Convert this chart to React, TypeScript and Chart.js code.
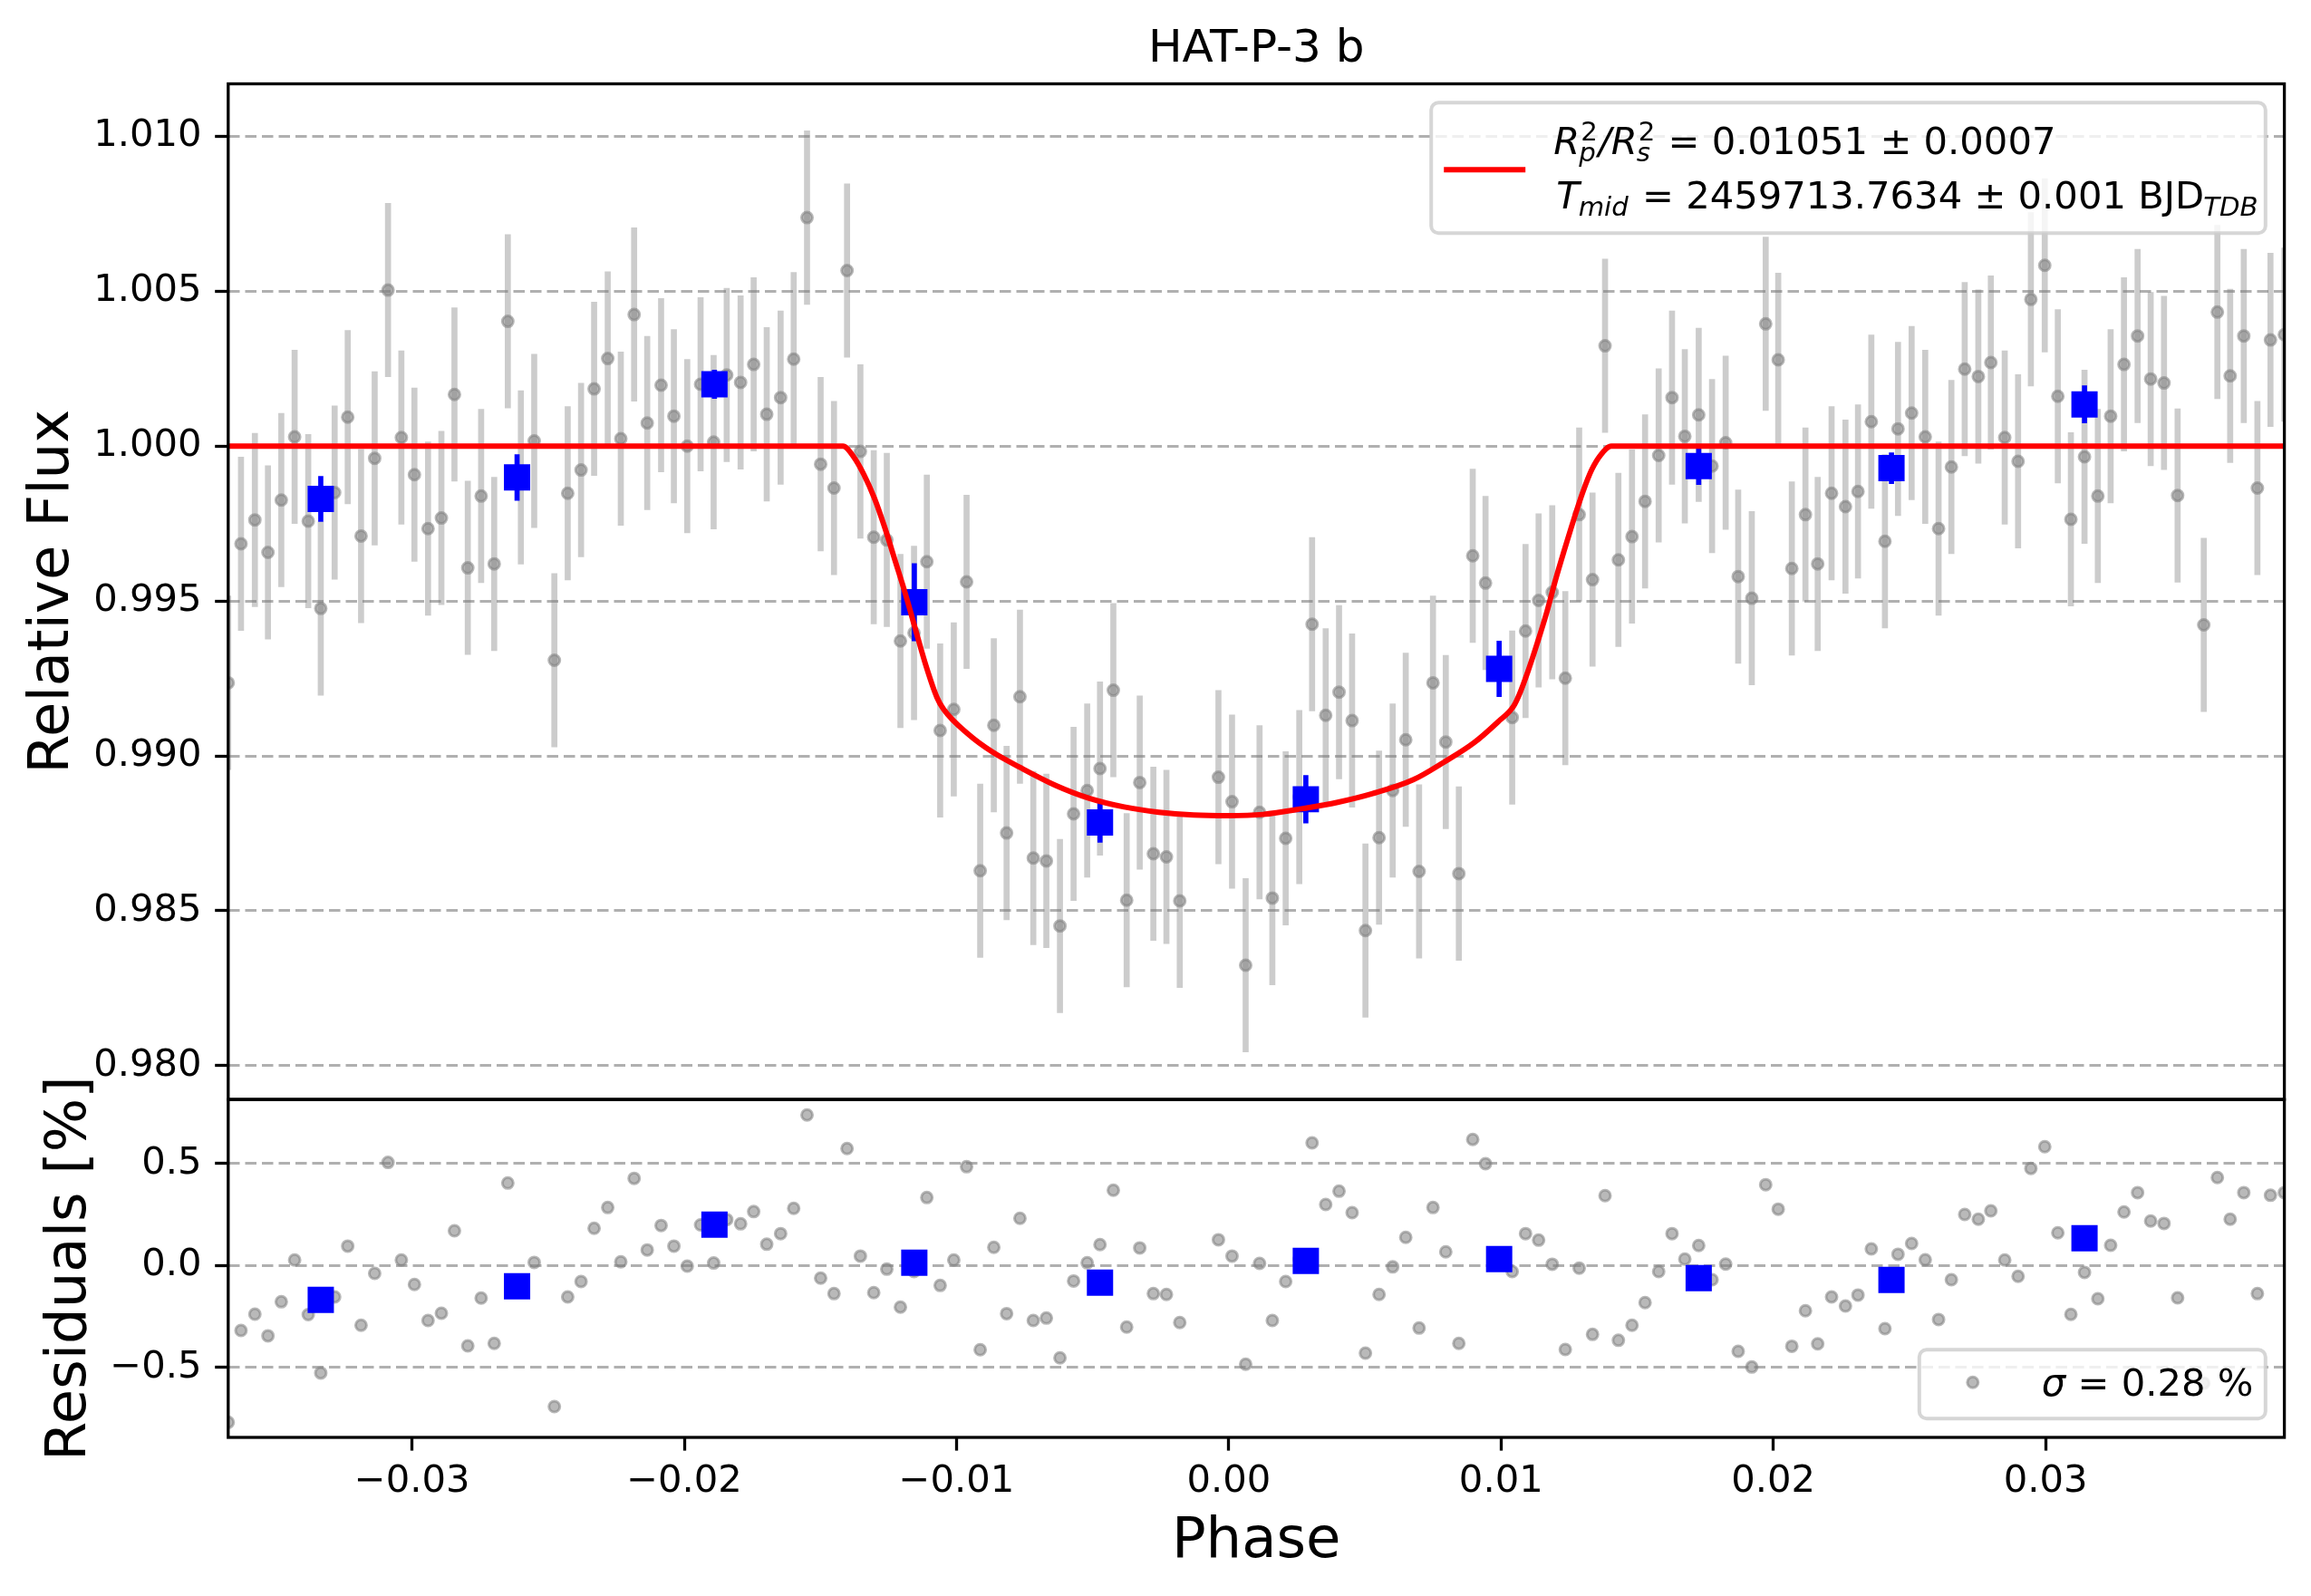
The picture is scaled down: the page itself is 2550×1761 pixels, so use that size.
import React, { useEffect, useRef } from 'react';
import { Chart, registerables } from 'chart.js';

Chart.register(...registerables);

// ---------------- data ----------------
const phase = [
  -0.03675, -0.03628, -0.03577, -0.03529, -0.0348, -0.03431, -0.03381, -0.03335, -0.03284, -0.03236,
  -0.03187, -0.03137, -0.03088, -0.03039, -0.02991, -0.02941, -0.02892, -0.02844, -0.02795, -0.02746,
  -0.02698, -0.02648, -0.026, -0.02551, -0.02477, -0.02428, -0.02379, -0.02331, -0.02281, -0.02233,
  -0.02184, -0.02136, -0.02085, -0.02038, -0.01989, -0.0194, -0.01892, -0.01844, -0.01793, -0.01745,
  -0.01697, -0.01646, -0.01598, -0.01549, -0.01499, -0.0145, -0.01402, -0.01353, -0.01304, -0.01256,
  -0.01206, -0.01156, -0.01109, -0.0106, -0.0101, -0.00963, -0.00913, -0.00863, -0.00816, -0.00767,
  -0.00718, -0.0067, -0.0062, -0.0057, -0.0052, -0.00473, -0.00424, -0.00375, -0.00327, -0.00277,
  -0.00229, -0.0018, -0.00038, 0.00012, 0.00062, 0.00113, 0.0016, 0.00209, 0.00259, 0.00306,
  0.00356, 0.00405, 0.00453, 0.00502, 0.00552, 0.00602, 0.0065, 0.00699, 0.0075, 0.00797,
  0.00845, 0.00896, 0.00943, 0.01041, 0.0109, 0.01138, 0.01188, 0.01236, 0.01287, 0.01336,
  0.01382, 0.01431, 0.01481, 0.01529, 0.01579, 0.01628, 0.01675, 0.01726, 0.01775, 0.01825,
  0.01871, 0.01921, 0.01972, 0.02018, 0.02068, 0.02118, 0.02163, 0.02214, 0.02265, 0.02311,
  0.0236, 0.0241, 0.02458, 0.02508, 0.02558, 0.02607, 0.02654, 0.02703, 0.02753, 0.02799,
  0.0285, 0.02899, 0.02946, 0.02997, 0.03045, 0.03093, 0.03143, 0.03192, 0.03239, 0.03288,
  0.03338, 0.03386, 0.03435, 0.03485, 0.03581, 0.03631, 0.03678, 0.03728, 0.03778, 0.03826,
  0.03877,
];

const flux = [
  0.99236, 0.99685, 0.99762, 0.99657, 0.99826, 1.0003, 0.99758, 0.99476, 0.9985, 1.00094,
  0.9971, 0.99961, 1.00504, 1.00028, 0.99908, 0.99734, 0.99768, 1.00167, 0.99607, 0.99839,
  0.9962, 1.00403, 0.99899, 1.00017, 0.99309, 0.99848, 0.99923, 1.00185, 1.00283, 1.00024,
  1.00425, 1.00075, 1.00197, 1.00097, 1.0, 1.002, 1.00013, 1.0023, 1.00206, 1.00264,
  1.00103, 1.00157, 1.00281, 1.00738, 0.99942, 0.99865, 1.00567, 0.99983, 0.99706, 0.99697,
  0.99371, 0.99397, 0.99627, 0.99082, 0.9915, 0.99562, 0.98629, 0.99099, 0.98751, 0.99191,
  0.9867, 0.98661, 0.98451, 0.98813, 0.98888, 0.98959, 0.99212, 0.98534, 0.98914, 0.98684,
  0.98674, 0.98532, 0.98931, 0.98852, 0.98324, 0.98818, 0.98541, 0.98734, 0.98867, 0.99425,
  0.99131, 0.99206, 0.99114, 0.98436, 0.98736, 0.98888, 0.99052, 0.98627, 0.99236, 0.99045,
  0.9862, 0.99646, 0.99558, 0.99124, 0.99403, 0.99502, 0.99528, 0.99251, 0.99779, 0.99569,
  1.00324, 0.99633, 0.99708, 0.99822, 0.9997, 1.00157, 1.00032, 1.00101, 0.99936, 1.00011,
  0.99579, 0.99509, 1.00395, 1.00279, 0.99605, 0.99779, 0.9962, 0.99848, 0.99805, 0.99854,
  1.00079, 0.99693, 1.00056, 1.00107, 1.0003, 0.99734, 0.99933, 1.00249, 1.00225, 1.0027,
  1.00028, 0.99951, 1.00474, 1.00584, 1.00161, 0.99764, 0.99966, 0.99839, 1.00097, 1.00264,
  1.00356, 1.00217, 1.00204, 0.99841, 0.99423, 1.00433, 1.00227, 1.00356, 0.99865, 1.00343,
  1.0036,
];

const fluxErr = 0.0028;

const residual = [
  -0.769, -0.319, -0.239, -0.345, -0.178, 0.027, -0.241, -0.527, -0.154, 0.095,
  -0.293, -0.039, 0.505, 0.027, -0.093, -0.27, -0.234, 0.17, -0.394, -0.16,
  -0.382, 0.404, -0.101, 0.015, -0.692, -0.154, -0.079, 0.182, 0.284, 0.018,
  0.427, 0.076, 0.196, 0.095, -0.003, 0.199, 0.012, 0.225, 0.204, 0.264,
  0.104, 0.156, 0.28, 0.738, -0.062, -0.138, 0.573, 0.046, -0.133, -0.018,
  -0.204, -0.03, 0.333, -0.098, 0.027, 0.484, -0.413, 0.089, -0.236, 0.231,
  -0.27, -0.258, -0.453, -0.076, 0.013, 0.102, 0.369, -0.302, 0.086, -0.138,
  -0.142, -0.28, 0.126, 0.046, -0.484, 0.01, -0.27, -0.079, 0.03, 0.601,
  0.299, 0.364, 0.259, -0.43, -0.142, -0.007, 0.138, -0.307, 0.284, 0.067,
  -0.382, 0.618, 0.499, -0.03, 0.156, 0.124, 0.006, -0.412, -0.013, -0.338,
  0.342, -0.367, -0.293, -0.182, -0.03, 0.156, 0.031, 0.098, -0.07, 0.007,
  -0.421, -0.498, 0.396, 0.276, -0.396, -0.222, -0.384, -0.154, -0.199, -0.145,
  0.081, -0.31, 0.055, 0.108, 0.028, -0.265, -0.07, 0.25, 0.227, 0.268,
  0.027, -0.053, 0.476, 0.582, 0.16, -0.24, -0.034, -0.163, 0.099, 0.262,
  0.357, 0.218, 0.206, -0.159, -0.577, 0.431, 0.227, 0.357, -0.138, 0.344,
  0.357,
];

const binPhase = [-0.03335, -0.02614, -0.01889, -0.01155, -0.00473, 0.00283, 0.00993, 0.01726, 0.02434, 0.03143];
const binFlux = [0.9983, 0.99899, 1.002, 0.99496, 0.98785, 0.9886, 0.99281, 0.99936, 0.99929, 1.00135];
const binErr = [0.00073, 0.00074, 0.00046, 0.00125, 0.00064, 0.00077, 0.0009, 0.0006, 0.0005, 0.0006];
const binResidual = [-0.169, -0.102, 0.2, 0.013, -0.084, 0.022, 0.031, -0.062, -0.071, 0.133];

const modelPhase = [
  -0.03675, -0.01417, -0.01378, -0.0134, -0.01302, -0.01263, -0.01225, -0.01187, -0.01149, -0.0111,
  -0.01072, -0.01047, -0.00958, -0.00869, -0.00767, -0.00639, -0.00512, -0.00384, -0.00257, -0.00129,
  -0.00002, 0.00125, 0.00273, 0.004, 0.00528, 0.00678, 0.00789, 0.009, 0.00989, 0.01045,
  0.01067, 0.011, 0.01133, 0.01167, 0.012, 0.01233, 0.01267, 0.013, 0.01333, 0.01367,
  0.01405, 0.03877,
];
const modelFlux = [
  1.0, 1.0, 0.99966, 0.99908, 0.99833, 0.99736, 0.99629, 0.99521, 0.99403, 0.99285,
  0.99189, 0.9915, 0.99071, 0.99013, 0.98963, 0.98906, 0.98863, 0.98835, 0.98818, 0.98809,
  0.98807, 0.98811, 0.9883, 0.9885, 0.98878, 0.98923, 0.98979, 0.99042, 0.9911, 0.99159,
  0.99198, 0.99276, 0.99364, 0.99461, 0.99568, 0.99666, 0.99763, 0.99851, 0.99924, 0.99973,
  1.0, 1.0,
];

const fluxTicks = [0.98, 0.985, 0.99, 0.995, 1.0, 1.005, 1.01];
const residualTicks = [-0.5, 0.0, 0.5];
const phaseTicks = [-0.03, -0.02, -0.01, 0.0, 0.01, 0.02, 0.03];

const PHASE_MIN = -0.03675;
const PHASE_MAX = 0.03877;
const FLUX_MIN = 0.97891;
const FLUX_MAX = 1.0117;
const RES_MIN = -0.843;
const RES_MAX = 0.813;

const TITLE = 'HAT-P-3 b';
const Y1_LABEL = 'Relative Flux';
const Y2_LABEL = 'Residuals [%]';
const X_LABEL = 'Phase';
const DEPTH_TEXT = ' = 0.01051 ± 0.0007';
const TMID_TEXT = ' = 2459713.7634 ± 0.001 BJD';
const SIGMA_TEXT = ' = 0.28 %';

// ---------------- style ----------------
const W = 2550;
const H = 1761;
const FONT = '"DejaVu Sans", "Liberation Sans", sans-serif';
const TICK_PX = 41.7;
const LABEL_PX = 62.5;
const AXIS_W = 3.3;
const GRID_DASH = [12.5, 6];
const GRID_COLOR = '#b0b0b0';
const GRAY_FILL = 'rgba(128,128,128,0.55)';
const GRAY_BAR = 'rgba(128,128,128,0.4)';
const BLUE = '#0000ff';
const RED = '#ff0000';

const fmtMinus = (s: string) => s.replace('-', '\u2212');

type Run = { t?: string; italic?: boolean; small?: boolean; sup?: string; sub?: string };

function drawRuns(ctx: CanvasRenderingContext2D, x: number, y: number, runs: Run[], base: number) {
  const small = base * 0.7;
  ctx.textBaseline = 'alphabetic';
  ctx.textAlign = 'left';
  ctx.fillStyle = '#000';
  for (const r of runs) {
    if (r.sup !== undefined || (r.sub !== undefined && r.t === undefined)) {
      let w1 = 0;
      let w2 = 0;
      if (r.sup !== undefined) {
        ctx.font = `${small}px ${FONT}`;
        w1 = ctx.measureText(r.sup).width + 1;
        ctx.fillText(r.sup, x + 1, y - 15);
      }
      if (r.sub !== undefined) {
        ctx.font = `italic ${small}px ${FONT}`;
        w2 = ctx.measureText(r.sub).width;
        ctx.fillText(r.sub, x - 1, y + 8);
      }
      x += Math.max(w1, w2) + 1;
    } else if (r.t !== undefined) {
      const size = r.small ? small : base;
      ctx.font = `${r.italic ? 'italic ' : ''}${size}px ${FONT}`;
      ctx.fillText(r.t, x, y);
      x += ctx.measureText(r.t).width;
    }
  }
}

const framePlugin = {
  id: 'frame',
  afterDatasetsDraw(chart: any) {
    const { ctx, chartArea } = chart;
    const { left, top, right, bottom } = chartArea;
    ctx.save();
    ctx.strokeStyle = '#000';
    ctx.lineWidth = AXIS_W;
    ctx.strokeRect(left, top, right - left, bottom - top);
    ctx.restore();
  },
};

const mainLegendPlugin = {
  id: 'mainLegend',
  afterDraw(chart: any) {
    const { ctx, chartArea } = chart;
    const pad = 20.8;
    const bw = 920.6;
    const bh = 144;
    const bx = chartArea.right - pad - bw;
    const by = chartArea.top + pad;
    ctx.save();
    ctx.beginPath();
    ctx.roundRect(bx, by, bw, bh, 8);
    ctx.fillStyle = 'rgba(255,255,255,0.8)';
    ctx.fill();
    ctx.lineWidth = 4;
    ctx.strokeStyle = 'rgba(204,204,204,0.8)';
    ctx.stroke();
    ctx.beginPath();
    ctx.strokeStyle = RED;
    ctx.lineWidth = 6;
    ctx.moveTo(bx + 14, by + 74);
    ctx.lineTo(bx + 104, by + 74);
    ctx.stroke();
    drawRuns(ctx, bx + 135, by + 57, [
      { t: 'R', italic: true },
      { sup: '2', sub: 'p' },
      { t: '/', italic: true },
      { t: 'R', italic: true },
      { sup: '2', sub: 's' },
      { t: DEPTH_TEXT },
    ], TICK_PX);
    drawRuns(ctx, bx + 138, by + 117, [
      { t: 'T', italic: true },
      { sub: 'mid' },
      { t: TMID_TEXT },
      { sub: 'TDB' },
    ], TICK_PX);
    ctx.restore();
  },
};

const resLegendPlugin = {
  id: 'resLegend',
  afterDraw(chart: any) {
    const { ctx, chartArea } = chart;
    const pad = 20.8;
    const bw = 382;
    const bh = 76;
    const bx = chartArea.right - pad - bw;
    const by = chartArea.bottom - pad - bh;
    ctx.save();
    ctx.beginPath();
    ctx.roundRect(bx, by, bw, bh, 8);
    ctx.fillStyle = 'rgba(255,255,255,0.8)';
    ctx.fill();
    ctx.lineWidth = 4;
    ctx.strokeStyle = 'rgba(204,204,204,0.8)';
    ctx.stroke();
    ctx.beginPath();
    ctx.arc(bx + 59, by + 36, 6, 0, Math.PI * 2);
    ctx.fillStyle = GRAY_FILL;
    ctx.fill();
    ctx.lineWidth = 3;
    ctx.strokeStyle = GRAY_FILL;
    ctx.stroke();
    drawRuns(ctx, bx + 135, by + 51, [{ t: 'σ', italic: true }, { t: SIGMA_TEXT }], TICK_PX);
    ctx.restore();
  },
};

function yAxis(min: number, max: number, ticks: number[], decimals: number, label: string, titlePad: number) {
  return {
    type: 'linear',
    position: 'left',
    min,
    max,
    afterBuildTicks: (s: any) => {
      s.ticks = ticks.map((v) => ({ value: v }));
    },
    afterFit: (s: any) => {
      s.width = 251.8;
    },
    ticks: {
      font: { family: FONT, size: TICK_PX },
      color: '#000',
      padding: 14.6,
      callback: (v: any) => fmtMinus(Number(v).toFixed(decimals)),
    },
    grid: {
      color: GRID_COLOR,
      lineWidth: 3,
      drawTicks: true,
      tickLength: 14.6,
      tickColor: '#000',
      tickWidth: AXIS_W,
      tickBorderDash: [],
    },
    border: { display: false, dash: GRID_DASH },
    title: {
      display: true,
      text: label,
      color: '#000',
      font: { family: FONT, size: LABEL_PX, weight: 'normal' },
      padding: { top: titlePad, bottom: 0 },
    },
  };
}

export default function App() {
  const mainRef = useRef<HTMLCanvasElement>(null);
  const resRef = useRef<HTMLCanvasElement>(null);

  useEffect(() => {
    const pts = phase.map((p, i) => ({ x: p, y: flux[i] }));
    const errs = phase.map((p, i) => ({ x: p, y: [flux[i] - fluxErr, flux[i] + fluxErr] }));
    const bins = binPhase.map((p, i) => ({ x: p, y: binFlux[i] }));
    const binErrs = binPhase.map((p, i) => ({ x: p, y: [binFlux[i] - binErr[i], binFlux[i] + binErr[i]] }));
    const model = modelPhase.map((p, i) => ({ x: p, y: modelFlux[i] }));

    const main = new Chart(mainRef.current as HTMLCanvasElement, {
      type: 'scatter',
      data: {
        datasets: [
          { type: 'bar', data: errs as any, backgroundColor: GRAY_BAR, barThickness: 6, grouped: false, borderWidth: 0, order: 5, clip: 0 } as any,
          { type: 'scatter', data: pts, pointRadius: 6, pointBackgroundColor: GRAY_FILL, pointBorderColor: GRAY_FILL, pointBorderWidth: 3, order: 4, clip: 0 } as any,
          { type: 'bar', data: binErrs as any, backgroundColor: BLUE, barThickness: 5, grouped: false, borderWidth: 0, order: 3, clip: 0 } as any,
          { type: 'scatter', data: bins, pointStyle: 'rect', pointRadius: 20.5, pointBackgroundColor: BLUE, pointBorderWidth: 0, order: 2, clip: 0 } as any,
          { type: 'line', data: model, borderColor: RED, borderWidth: 6, pointRadius: 0, cubicInterpolationMode: 'monotone', fill: false, order: 0, clip: 0 } as any,
        ],
      },
      options: {
        responsive: false,
        devicePixelRatio: 1,
        animation: false,
        events: [],
        layout: { padding: { left: 0, right: 29.4, top: 0, bottom: 548 } },
        plugins: {
          legend: { display: false },
          tooltip: { enabled: false },
          title: {
            display: true,
            text: TITLE,
            fullSize: false,
            color: '#000',
            font: { family: FONT, size: 50, weight: 'normal' },
            padding: { top: 25, bottom: 7.5 },
          },
        },
        scales: {
          x: { type: 'linear', min: PHASE_MIN, max: PHASE_MAX, offset: false, display: false },
          y: yAxis(FLUX_MIN, FLUX_MAX, fluxTicks, 3, Y1_LABEL, 21.5) as any,
        },
      },
      plugins: [framePlugin, mainLegendPlugin],
    });

    const rpts = phase.map((p, i) => ({ x: p, y: residual[i] }));
    const rbins = binPhase.map((p, i) => ({ x: p, y: binResidual[i] }));

    const res = new Chart(resRef.current as HTMLCanvasElement, {
      type: 'scatter',
      data: {
        datasets: [
          { type: 'scatter', data: rpts, pointRadius: 6, pointBackgroundColor: GRAY_FILL, pointBorderColor: GRAY_FILL, pointBorderWidth: 3, order: 2, clip: 0 } as any,
          { type: 'scatter', data: rbins, pointStyle: 'rect', pointRadius: 20.5, pointBackgroundColor: BLUE, pointBorderWidth: 0, order: 1, clip: 0 } as any,
        ],
      },
      options: {
        responsive: false,
        devicePixelRatio: 1,
        animation: false,
        events: [],
        layout: { padding: { left: 0, right: 29.4, top: 1213.3, bottom: 0 } },
        plugins: { legend: { display: false }, tooltip: { enabled: false } },
        scales: {
          x: {
            type: 'linear',
            position: 'bottom',
            min: PHASE_MIN,
            max: PHASE_MAX,
            offset: false,
            afterBuildTicks: (s: any) => {
              s.ticks = phaseTicks.map((v) => ({ value: v }));
            },
            afterFit: (s: any) => {
              s.height = 175;
            },
            ticks: {
              font: { family: FONT, size: TICK_PX },
              color: '#000',
              padding: 10,
              autoSkip: false,
              maxRotation: 0,
              callback: (v: any) => fmtMinus(Number(v).toFixed(2)),
            },
            grid: {
              drawOnChartArea: false,
              drawTicks: true,
              tickLength: 14.6,
              tickColor: '#000',
              tickWidth: AXIS_W,
              tickBorderDash: [],
            },
            border: { display: false },
            title: {
              display: true,
              text: X_LABEL,
              color: '#000',
              font: { family: FONT, size: LABEL_PX, weight: 'normal' },
              padding: { top: 0, bottom: 21.5 },
            },
          } as any,
          y: yAxis(RES_MIN, RES_MAX, residualTicks, 1, Y2_LABEL, 40) as any,
        },
      },
      plugins: [framePlugin, resLegendPlugin],
    });

    return () => {
      main.destroy();
      res.destroy();
    };
  }, []);

  const canvasStyle: React.CSSProperties = { position: 'absolute', left: 0, top: 0, width: W, height: H };
  return (
    <div style={{ position: 'fixed', left: 0, top: 0, width: W, height: H, background: '#fff' }}>
      <canvas ref={mainRef} width={W} height={H} style={canvasStyle} />
      <canvas ref={resRef} width={W} height={H} style={canvasStyle} />
    </div>
  );
}
